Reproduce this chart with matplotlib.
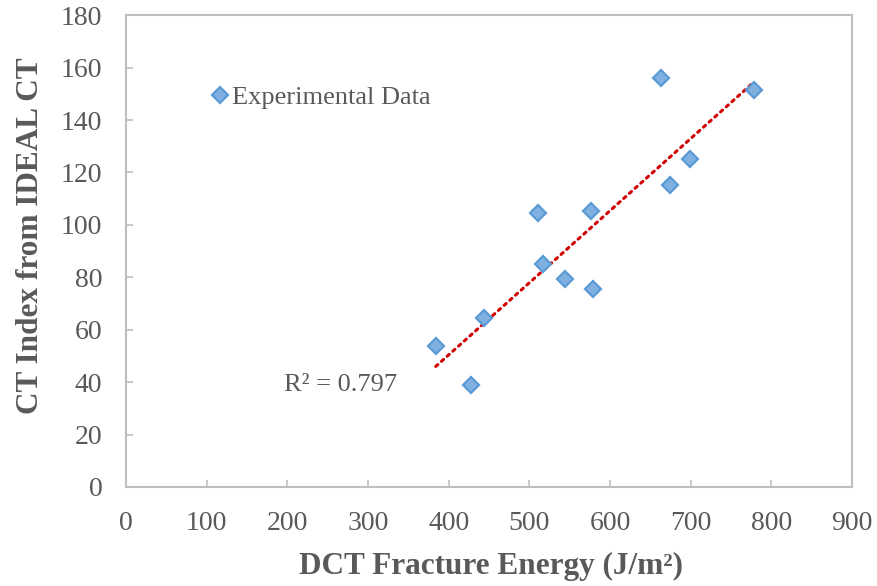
import numpy as np
import matplotlib
matplotlib.use("Agg")
import matplotlib.pyplot as plt

plt.rcParams['font.family'] = ['Liberation Serif', 'DejaVu Serif']

# DCT fracture energy (J/m2) vs CT index
fracture_energy = [384, 428, 444, 511, 517, 544, 577, 579, 663, 674, 699, 778]
ct_index = [53.8, 38.9, 64.5, 104.5, 85.0, 79.3, 105.3, 75.5, 156.0, 115.2, 125.1, 151.4]

x_ticks = [0, 100, 200, 300, 400, 500, 600, 700, 800, 900]
y_ticks = [0, 20, 40, 60, 80, 100, 120, 140, 160, 180]

GREY_TEXT = '#595959'
GREY_AXIS = '#bfbfbf'
BLUE = '#5b9bd5'

fig = plt.figure(figsize=(8.77, 5.86), dpi=100)
ax = fig.add_axes([0.1437, 0.169, 0.8278, 0.805])

x = np.array(fracture_energy, dtype=float)
y = np.array(ct_index, dtype=float)

# linear trendline over the data range
slope, intercept = np.polyfit(x, y, 1)
x_fit = np.array([x.min(), x.max()])
ax.plot(x_fit, slope * x_fit + intercept, linestyle=(0, (0.9, 1.6)),
        color='#d00000', linewidth=2.2, dash_capstyle='round', zorder=2)

ax.plot(x, y, linestyle='none', marker='D', markersize=8.5,
        markerfacecolor='#7fb0e0', markeredgecolor=BLUE, markeredgewidth=1.6,
        label='Experimental Data', zorder=3)

ax.set_xlim(0, 900)
ax.set_ylim(0, 180)
ax.set_xticks(x_ticks)
ax.set_yticks(y_ticks)

for side in ax.spines.values():
    side.set_color(GREY_AXIS)
    side.set_linewidth(1.5)

ax.tick_params(direction='in', length=5, width=1.2, color=GREY_AXIS,
               labelcolor=GREY_TEXT, labelsize=20, pad=17)

ax.set_xlabel('DCT Fracture Energy (J/m²)', fontsize=22.5, fontweight='bold',
              color=GREY_TEXT, va='center')
ax.set_ylabel('CT Index from IDEAL CT', fontsize=22.5, fontweight='bold',
              color=GREY_TEXT, va='center')
ax.xaxis.set_label_coords(0.503, -0.168)
ax.yaxis.set_label_coords(-0.132, 0.532)

ax.text(196, 39, 'R² = 0.797', fontsize=19, color=GREY_TEXT,
        ha='left', va='center')

leg = ax.legend(loc='center left', bbox_to_anchor=(0.115, 0.826),
                frameon=False, fontsize=19, handlelength=0.8,
                handletextpad=0.05, borderpad=0, borderaxespad=0)
for t in leg.get_texts():
    t.set_color(GREY_TEXT)

fig.savefig('out.png', dpi=100)
